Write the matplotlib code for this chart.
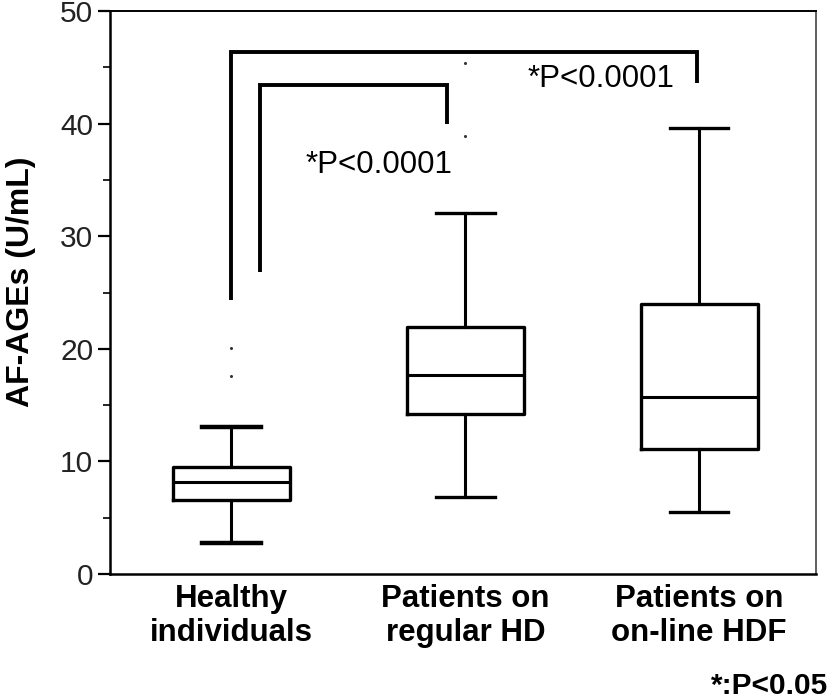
import matplotlib
matplotlib.use("Agg")
import matplotlib.pyplot as plt

plt.rcParams['font.family'] = ['Liberation Sans', 'DejaVu Sans']

groups = ["Healthy\nindividuals", "Patients on\nregular HD", "Patients on\non-line HDF"]
positions = [1, 2, 3]
whis_low = [2.75, 6.85, 5.5]
q1 = [6.6, 14.2, 11.1]
median = [8.2, 17.7, 15.7]
q3 = [9.5, 21.9, 24.0]
whis_high = [13.05, 32.05, 39.6]
outliers = [[20.1, 17.6], [45.4, 38.9], []]

# significance brackets: (x_left, y_left, y_top, x_right, y_right)
inner_bracket = (1.12, 26.8, 43.4, 1.92, 40.0)
outer_bracket = (1.0, 24.3, 46.4, 2.99, 43.6)
inner_label = ("*P<0.0001", 1.63, 36.3)
outer_label = ("*P<0.0001", 2.58, 44.0)

y_ticks = [0, 10, 20, 30, 40, 50]


def main():
    fig = plt.figure(figsize=(8.32, 7.0), dpi=100)
    ax = fig.add_axes([0.132, 0.18, 0.849, 0.804])

    stats = []
    for i in range(len(groups)):
        stats.append({
            "whislo": whis_low[i], "q1": q1[i], "med": median[i],
            "q3": q3[i], "whishi": whis_high[i], "fliers": outliers[i],
        })

    parts = ax.bxp(
        stats, positions=positions, widths=0.5, showfliers=True,
        boxprops=dict(color="black", linewidth=2.4),
        medianprops=dict(color="black", linewidth=2.2),
        whiskerprops=dict(color="black", linewidth=2.2),
        capprops=dict(color="black", linewidth=2.4),
        flierprops=dict(marker="o", markersize=2.2, markerfacecolor="#333333",
                        markeredgecolor="none"),
    )
    # thicker caps on the healthy group
    for cap in parts["caps"][:2]:
        cap.set_linewidth(3.2)

    for xl, yl, yt, xr, yr in (inner_bracket, outer_bracket):
        ax.plot([xl, xl, xr, xr], [yl, yt, yt, yr], color="black",
                linewidth=2.8, solid_capstyle="butt", solid_joinstyle="miter")

    for txt, x, y in (inner_label, outer_label):
        ax.text(x, y, txt, fontsize=22.5, ha="center", va="center")

    ax.set_xlim(0.48, 3.5)
    ax.set_ylim(0, 50)
    ax.set_yticks(y_ticks)
    ax.set_yticks([5, 15, 25, 35, 45], minor=True)
    ax.set_xticks(positions)
    ax.set_xticklabels(groups, fontsize=22.5, fontweight="bold", linespacing=1.2)
    ax.tick_params(axis="x", length=0, pad=7)
    ax.tick_params(axis="y", which="major", length=9, width=1.6, labelsize=21.5, pad=3)
    ax.tick_params(axis="y", which="minor", length=5, width=1.2)
    for lab in ax.get_yticklabels():
        lab.set_color("#222222")

    ax.set_ylabel("AF-AGEs (U/mL)", fontsize=23, fontweight="bold")
    ax.yaxis.set_label_coords(-0.105, 0.52)

    ax.spines["left"].set_linewidth(1.8)
    ax.spines["bottom"].set_linewidth(1.8)
    ax.spines["top"].set_linewidth(1.4)
    ax.spines["right"].set_linewidth(1.2)
    ax.spines["right"].set_color("#444444")

    fig.text(0.996, 0.02, "*:P<0.05", fontsize=21.5, fontweight="bold",
             ha="right", va="center")

    fig.savefig("out.png", dpi=100)


if __name__ == "__main__":
    main()
